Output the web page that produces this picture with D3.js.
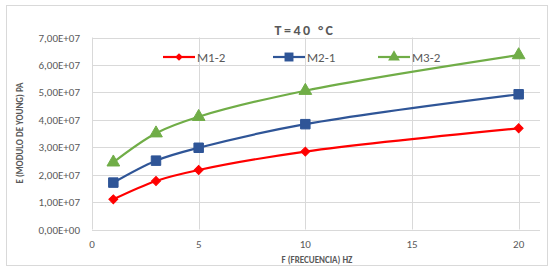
<!DOCTYPE html>
<html>
<head>
<meta charset="utf-8">
<script src="https://cdn.jsdelivr.net/npm/d3@7"></script>
<style>
  body { margin: 0; background: #fff; }
  svg { display: block; font-family: Calibri, Carlito, "Open Sans", sans-serif; }
</style>
</head>
<body>
<svg width="548" height="267"></svg>
<script>
// datos
const frecuencias = [1, 3, 5, 10, 20];
const m12 = [1.10e7, 1.77e7, 2.17e7, 2.84e7, 3.69e7];
const m21 = [1.71e7, 2.51e7, 2.98e7, 3.84e7, 4.93e7];
const m32 = [2.45e7, 3.51e7, 4.11e7, 5.06e7, 6.36e7];
const nombres = ["M1-2", "M2-1", "M3-2"];
const colores = ["#ff0000", "#2f5597", "#70ad47"];
const simbolos = [d3.symbolSquare, d3.symbolSquare, d3.symbolTriangle];
const giro = [45, 0, 0];
const xTicks = [0, 5, 10, 15, 20];
const yTicks = [0, 1e7, 2e7, 3e7, 4e7, 5e7, 6e7, 7e7];

const series = [m12, m21, m32].map((vals, i) => ({
  nombre: nombres[i],
  color: colores[i],
  simbolo: simbolos[i],
  giro: giro[i],
  puntos: vals.map((v, j) => ({ x: frecuencias[j], y: v }))
}));

const svg = d3.select("svg");

// marco del grafico
svg.append("rect")
  .attr("x", 6.5).attr("y", 5.5)
  .attr("width", 541).attr("height", 260)
  .attr("fill", "#fff")
  .attr("stroke", "#d9d9d9");

const x = d3.scaleLinear().domain([0, 21]).range([92, 540]);
const y = d3.scaleLinear().domain([0, 7e7]).range([229.5, 37.5]);

// rejilla
svg.append("g")
  .selectAll("line")
  .data(yTicks)
  .join("line")
  .attr("x1", x(0)).attr("x2", x(21))
  .attr("y1", d => Math.round(y(d)) + 0.5)
  .attr("y2", d => Math.round(y(d)) + 0.5)
  .attr("stroke", "#d9d9d9");

svg.append("g")
  .selectAll("line")
  .data(xTicks)
  .join("line")
  .attr("x1", d => Math.round(x(d)) + 0.5)
  .attr("x2", d => Math.round(x(d)) + 0.5)
  .attr("y1", y(7e7)).attr("y2", y(0))
  .attr("stroke", "#d9d9d9");

// etiquetas de ejes
const fmt = d => d3.format(".2e")(d).replace(".", ",").replace(/e\+(\d)$/, "E+0$1").replace("e+", "E+");
svg.append("g")
  .attr("fill", "#595959")
  .attr("font-size", 11)
  .attr("text-anchor", "end")
  .selectAll("text")
  .data(yTicks)
  .join("text")
  .attr("x", 80)
  .attr("y", d => y(d) + 4)
  .text(d => fmt(d));

svg.append("g")
  .attr("fill", "#595959")
  .attr("font-size", 11)
  .attr("text-anchor", "middle")
  .selectAll("text")
  .data(xTicks)
  .join("text")
  .attr("x", d => x(d))
  .attr("y", 248)
  .text(d => d);

// titulos
svg.append("text")
  .attr("x", 305).attr("y", 35)
  .attr("text-anchor", "middle")
  .attr("font-size", 14).attr("font-weight", "bold")
  .attr("letter-spacing", 2.5)
  .attr("fill", "#595959")
  .text("T=40 °C");

svg.append("text")
  .attr("x", 317).attr("y", 263)
  .attr("text-anchor", "middle")
  .attr("font-size", 9).attr("font-weight", "bold")
  .attr("fill", "#595959")
  .text("F (FRECUENCIA) HZ");

svg.append("text")
  .attr("transform", "translate(23,133) rotate(-90)")
  .attr("text-anchor", "middle")
  .attr("font-size", 9).attr("font-weight", "bold")
  .attr("fill", "#595959")
  .text("E (MODULO DE YOUNG) PA");

// lineas suavizadas
const linea = d3.line()
  .x(d => x(d.x))
  .y(d => y(d.y))
  .curve(d3.curveCatmullRom.alpha(0.5));

const grupos = svg.append("g")
  .selectAll("g")
  .data(series)
  .join("g");

grupos.append("path")
  .attr("d", d => linea(d.puntos))
  .attr("fill", "none")
  .attr("stroke", d => d.color)
  .attr("stroke-width", 2.2);

const tam = [40, 90, 70];
grupos.each(function (s, i) {
  d3.select(this).selectAll("path.m")
    .data(s.puntos)
    .join("path")
    .attr("class", "m")
    .attr("transform", d => `translate(${x(d.x)},${y(d.y)}) rotate(${s.giro})`)
    .attr("d", d3.symbol().type(s.simbolo).size(tam[i]))
    .attr("fill", s.color)
    .attr("stroke", s.color);
});

// leyenda
const leyX = [163, 273, 378];
const tamLey = [30, 80, 60];
const ley = svg.append("g")
  .selectAll("g")
  .data(series)
  .join("g")
  .attr("transform", (d, i) => `translate(${leyX[i]},57)`);

ley.append("line")
  .attr("x1", 0).attr("x2", 32)
  .attr("stroke", d => d.color)
  .attr("stroke-width", 2.2);

ley.append("path")
  .attr("transform", d => `translate(16,0) rotate(${d.giro})`)
  .attr("d", (d, i) => d3.symbol().type(d.simbolo).size(tamLey[i])())
  .attr("fill", d => d.color);

ley.append("text")
  .attr("x", 34).attr("y", 5)
  .attr("font-size", 13)
  .attr("fill", "#595959")
  .text(d => d.nombre);
</script>
</body>
</html>
